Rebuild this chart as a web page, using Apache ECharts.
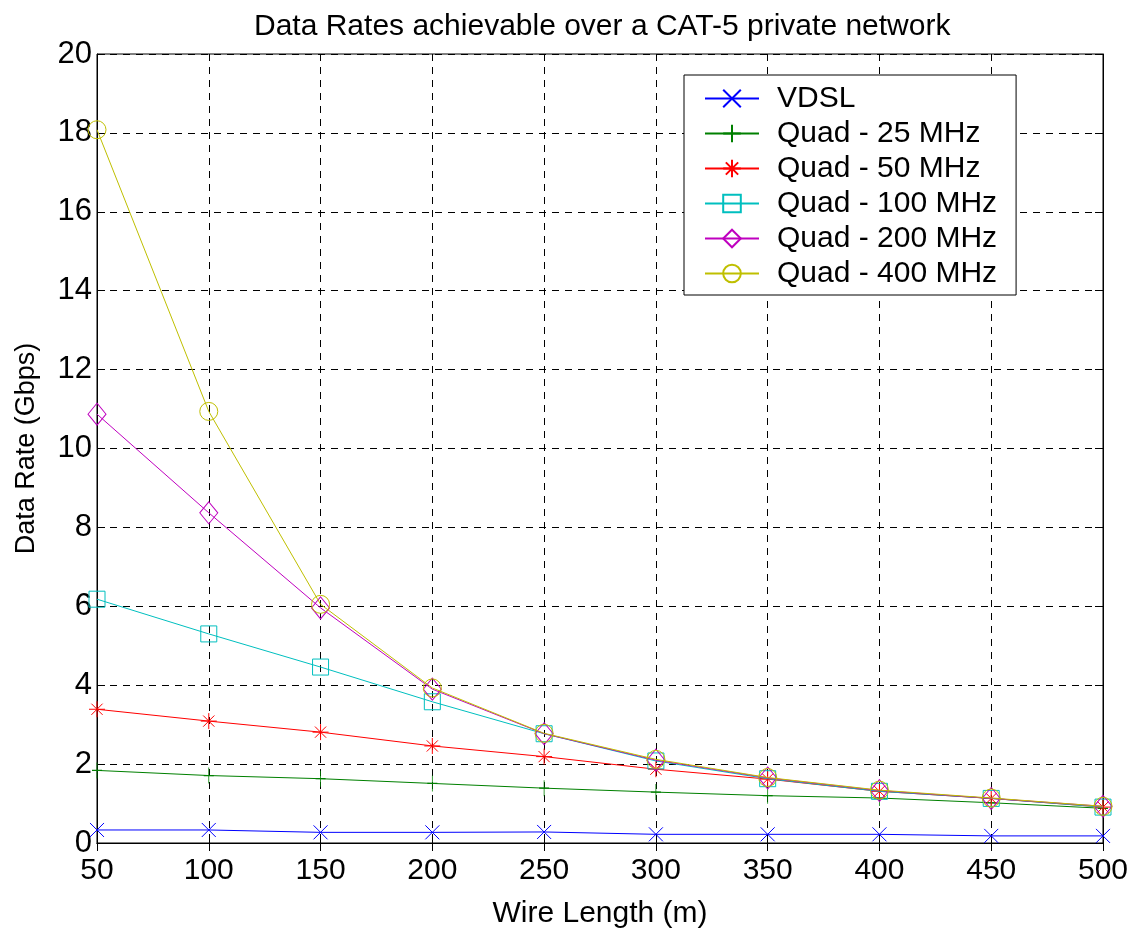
<!DOCTYPE html>
<html>
<head>
<meta charset="utf-8">
<script src="https://cdn.jsdelivr.net/npm/echarts@6/dist/echarts.min.js"></script>
<style>html,body{margin:0;padding:0;background:#fff}#c{width:1133px;height:934px}</style>
</head>
<body>
<div id="c"></div>
<script>
const wireLength = [50, 100, 150, 200, 250, 300, 350, 400, 450, 500];
const vdsl    = [0.33, 0.33, 0.27, 0.27, 0.28, 0.22, 0.22, 0.22, 0.18, 0.18];
const quad25  = [1.84, 1.71, 1.63, 1.51, 1.39, 1.29, 1.20, 1.14, 1.02, 0.88];
const quad50  = [3.39, 3.09, 2.81, 2.46, 2.19, 1.87, 1.62, 1.31, 1.13, 0.91];
const quad100 = [6.18, 5.30, 4.46, 3.58, 2.77, 2.08, 1.63, 1.31, 1.13, 0.91];
const quad200 = [10.87, 8.37, 5.96, 3.90, 2.77, 2.10, 1.65, 1.33, 1.13, 0.93];
const quad400 = [18.08, 10.94, 6.05, 3.93, 2.78, 2.12, 1.66, 1.34, 1.14, 0.93];
const seriesNames = ['VDSL', 'Quad - 25 MHz', 'Quad - 50 MHz', 'Quad - 100 MHz', 'Quad - 200 MHz', 'Quad - 400 MHz'];
const yTicks = [0, 2, 4, 6, 8, 10, 12, 14, 16, 18, 20];

const FONT = '"Liberation Sans", Arial, sans-serif';

const specs = [
  {data: vdsl,    color: '#0000ff', symbol: 'path://M0,0L10,10M10,0L0,10', size: 14},
  {data: quad25,  color: '#008000', symbol: 'path://M5,0L5,10M0,5L10,5', size: [10, 16]},
  {data: quad50,  color: '#ff0000', symbol: 'path://M5,0L5,10M0,5L10,5M1.5,1.5L8.5,8.5M8.5,1.5L1.5,8.5', size: 16},
  {data: quad100, color: '#00bfbf', symbol: 'rect', size: 16},
  {data: quad200, color: '#bf00bf', symbol: 'diamond', size: [18, 22]},
  {data: quad400, color: '#bfbf00', symbol: 'circle', size: 18}
];

const series = specs.map((s, i) => ({
  name: seriesNames[i],
  type: 'line',
  data: wireLength.map((x, j) => [x, s.data[j]]),
  symbol: s.symbol,
  symbolSize: s.size,
  showSymbol: true,
  animation: false,
  lineStyle: {color: s.color, width: 1},
  itemStyle: {color: 'rgba(0,0,0,0)', borderColor: s.color, borderWidth: 1},
  z: 2 + i
}));

const chart = echarts.init(document.getElementById('c'), null, {renderer: 'canvas'});
chart.setOption({
  backgroundColor: '#fff',
  animation: false,
  title: {
    text: 'Data Rates achievable over a CAT-5 private network',
    left: 249, top: 7,
    textStyle: {fontFamily: FONT, fontSize: 30, fontWeight: 'normal', color: '#000'}
  },
  grid: {left: 97, right: 30, top: 54, bottom: 87, show: true, borderColor: '#000', borderWidth: 1},
  legend: {
    orient: 'vertical',
    left: 684, top: 75,
    backgroundColor: '#fff',
    borderColor: '#000', borderWidth: 1,
    padding: [6, 19, 4, 20],
    itemGap: 0,
    itemWidth: 54, itemHeight: 22,
    textStyle: {fontFamily: FONT, fontSize: 30, color: '#000', lineHeight: 35, padding: [0, 0, 0, 13]},
    data: seriesNames
  },
  xAxis: [{
    type: 'value', min: 50, max: 500, interval: 50,
    name: 'Wire Length (m)', nameLocation: 'middle', nameGap: 56,
    nameTextStyle: {fontFamily: FONT, fontSize: 30, color: '#000'},
    axisLine: {show: true, lineStyle: {color: '#000', width: 1}},
    axisTick: {show: true, inside: true, length: 8, lineStyle: {color: '#000'}},
    axisLabel: {fontFamily: FONT, fontSize: 30, color: '#000', margin: 13},
    splitLine: {show: true, lineStyle: {color: '#000', type: [7, 6], width: 1}}
  }, {
    type: 'value', min: 50, max: 500, interval: 50, position: 'top',
    axisLine: {show: true, lineStyle: {color: '#000'}},
    axisTick: {show: true, inside: true, length: 8, lineStyle: {color: '#000'}},
    axisLabel: {show: false}, splitLine: {show: false}
  }],
  yAxis: [{
    type: 'value', min: yTicks[0], max: yTicks[yTicks.length - 1], interval: 2,
    name: 'Data Rate (Gbps)', nameLocation: 'middle', nameGap: 57,
    nameTextStyle: {fontFamily: FONT, fontSize: 27, color: '#000'},
    axisLine: {show: true, lineStyle: {color: '#000', width: 1}},
    axisTick: {show: true, inside: true, length: 8, lineStyle: {color: '#000'}},
    axisLabel: {fontFamily: FONT, fontSize: 31, color: '#000', margin: 5},
    splitLine: {show: true, lineStyle: {color: '#000', type: [7, 6], width: 1}}
  }, {
    type: 'value', min: yTicks[0], max: yTicks[yTicks.length - 1], interval: 2, position: 'right',
    axisLine: {show: true, lineStyle: {color: '#000'}},
    axisTick: {show: true, inside: true, length: 8, lineStyle: {color: '#000'}},
    axisLabel: {show: false}, splitLine: {show: false}
  }],
  series: series
});
</script>
</body>
</html>
